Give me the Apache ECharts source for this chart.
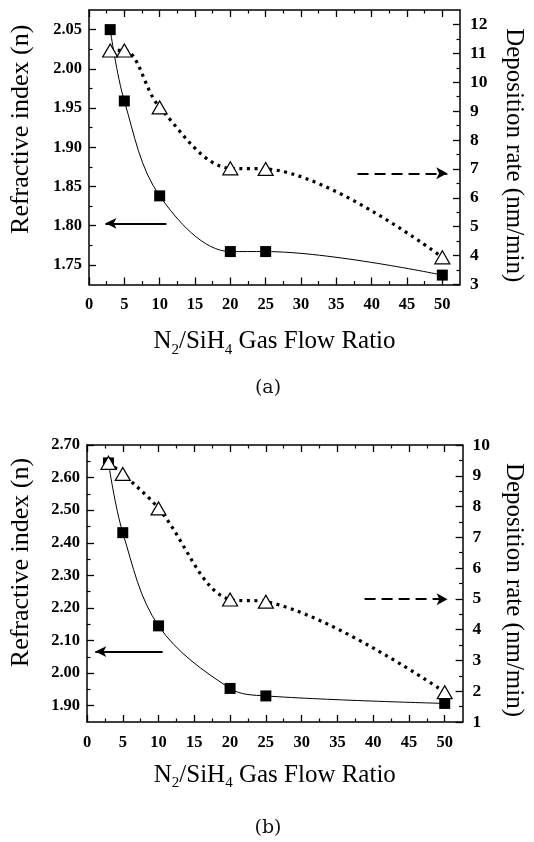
<!DOCTYPE html>
<html>
<head>
<meta charset="utf-8">
<title>N2/SiH4 ratio - refractive index and deposition rate</title>
<script src="https://cdn.jsdelivr.net/npm/echarts@6/dist/echarts.min.js"></script>
<style>
    html, body { margin: 0; padding: 0; background: #fff; }
    #chart { width: 534px; height: 842px; }
</style>
</head>
<body>
<div id="chart"></div>
<script>
// gas flow ratio (x) shared by both panels
var X_RATIO = [3, 5, 10, 20, 25, 50];

// panel (a)
var INDEX_A = [2.05, 1.959, 1.838, 1.767, 1.767, 1.737];
var RATE_A = [11.1, 11.1, 9.13, 7.02, 7.0, 3.94];
// panel (b)
var INDEX_B = [2.645, 2.431, 2.145, 1.953, 1.930, 1.907];
var RATE_B = [9.42, 9.06, 7.94, 4.98, 4.91, 1.97];

// arrows pointing to the axis each curve belongs to: [[fromX, fromY], [toX, toY]]
var ARROW_INDEX_A = [[10.96, 1.803], [2.33, 1.803]];
var ARROW_RATE_A = [[38.0, 6.85], [50.7, 6.85]];
var ARROW_INDEX_B = [[10.57, 2.066], [1.16, 2.066]];
var ARROW_RATE_B = [[38.8, 4.99], [50.4, 4.99]];

// tick values
var X_TICKS = [0, 5, 10, 15, 20, 25, 30, 35, 40, 45, 50];
var X_MINOR = [2.5, 7.5, 12.5, 17.5, 22.5, 27.5, 32.5, 37.5, 42.5, 47.5];
var LEFT_TICKS_A = [1.75, 1.80, 1.85, 1.90, 1.95, 2.00, 2.05];
var LEFT_MINOR_A = [1.775, 1.825, 1.875, 1.925, 1.975, 2.025];
var RIGHT_TICKS_A = [3, 4, 5, 6, 7, 8, 9, 10, 11, 12];
var RIGHT_MINOR_A = [3.5, 4.5, 5.5, 6.5, 7.5, 8.5, 9.5, 10.5, 11.5];
var LEFT_TICKS_B = [1.90, 2.00, 2.10, 2.20, 2.30, 2.40, 2.50, 2.60, 2.70];
var LEFT_MINOR_B = [1.95, 2.05, 2.15, 2.25, 2.35, 2.45, 2.55, 2.65];
var RIGHT_TICKS_B = [1, 2, 3, 4, 5, 6, 7, 8, 9, 10];
var RIGHT_MINOR_B = [1.5, 2.5, 3.5, 4.5, 5.5, 6.5, 7.5, 8.5, 9.5];

var X_MAX = 52.5;
var SERIF = 'Liberation Serif';
var INK = '#000';

var xAxes = [];
var yAxes = [];

function pairs(xs, ys) {
    var out = [];
    for (var i = 0; i < xs.length; i++) {
        out.push([xs[i], ys[i]]);
    }
    return out;
}

function tickAxisBase(gi, min, max, position) {
    return {
        gridIndex: gi,
        type: 'value',
        min: min,
        max: max,
        position: position,
        axisLine: {show: false, onZero: false},
        axisLabel: {show: false},
        splitLine: {show: false}
    };
}

/*
 * four x axes per grid: bottom major (labels + name), bottom minor,
 * top major, top minor. ticks all point inwards.
 */
function addXAxes(gi, nameGap) {
    var major = tickAxisBase(gi, 0, X_MAX, 'bottom');
    major.axisLine = {show: true, onZero: false, lineStyle: {color: INK, width: 1.5}};
    major.axisTick = {inside: true, length: 7, customValues: X_TICKS, lineStyle: {color: INK, width: 1.3}};
    major.axisLabel = {show: true, customValues: X_TICKS, margin: 12, color: INK, fontFamily: SERIF, fontSize: 16.5, fontWeight: 'bold'};
    major.name = '{t|N}{s|2}{t|/SiH}{s|4}{t| Gas Flow Ratio}';
    major.nameLocation = 'middle';
    major.nameGap = nameGap;
    major.nameTextStyle = {
        rich: {
            t: {fontFamily: SERIF, fontSize: 25, color: INK, lineHeight: 32, verticalAlign: 'middle'},
            s: {fontFamily: SERIF, fontSize: 15, color: INK, lineHeight: 15, verticalAlign: 'bottom'}
        }
    };
    xAxes.push(major);

    var minor = tickAxisBase(gi, 0, X_MAX, 'bottom');
    minor.axisTick = {inside: true, length: 3.5, customValues: X_MINOR, lineStyle: {color: INK, width: 1.2}};
    xAxes.push(minor);

    var top = tickAxisBase(gi, 0, X_MAX, 'top');
    top.axisLine = {show: true, onZero: false, lineStyle: {color: INK, width: 1.5}};
    top.axisTick = {inside: true, length: 7, customValues: X_TICKS, lineStyle: {color: INK, width: 1.3}};
    xAxes.push(top);

    var topMinor = tickAxisBase(gi, 0, X_MAX, 'top');
    topMinor.axisTick = {inside: true, length: 3.5, customValues: X_MINOR, lineStyle: {color: INK, width: 1.2}};
    xAxes.push(topMinor);
}

function addYPair(gi, side, min, max, ticks, minorTicks, digits, name, nameSize, nameGap, shift) {
    var major = tickAxisBase(gi, min, max, side);
    major.axisLine = {show: true, onZero: false, lineStyle: {color: INK, width: 1.5}};
    major.axisTick = {inside: true, length: 7, customValues: ticks, lineStyle: {color: INK, width: 1.3}};
    major.axisLabel = {
        show: true,
        customValues: ticks,
        margin: side === 'left' ? 7 : 10,
        color: INK,
        fontFamily: SERIF,
        fontSize: side === 'left' ? 16.5 : 17.5,
        fontWeight: 'bold',
        formatter: function (v) {
            return v.toFixed(digits);
        }
    };
    major.name = name;
    major.nameLocation = 'middle';
    major.nameGap = nameGap;
    major.nameRotate = side === 'left' ? 90 : -90;
    // padding on the leading side nudges the rotated title along the axis
    major.nameTextStyle = {fontFamily: SERIF, fontSize: nameSize, color: INK, padding: [0, 0, 0, shift]};
    yAxes.push(major);

    var minor = tickAxisBase(gi, min, max, side);
    minor.axisTick = {inside: true, length: 3.5, customValues: minorTicks, lineStyle: {color: INK, width: 1.2}};
    yAxes.push(minor);
}

addXAxes(0, 41);
addYPair(0, 'left', 1.725, 2.075, LEFT_TICKS_A, LEFT_MINOR_A, 2, 'Refractive index (n)', 26, 55, 36);
addYPair(0, 'right', 3, 12.5, RIGHT_TICKS_A, RIGHT_MINOR_A, 0, 'Deposition rate (nm/min)', 25, 41, 16);

addXAxes(1, 37);
addYPair(1, 'left', 1.85, 2.70, LEFT_TICKS_B, LEFT_MINOR_B, 2, 'Refractive index (n)', 26, 53, 42);
addYPair(1, 'right', 1, 10, RIGHT_TICKS_B, RIGHT_MINOR_B, 0, 'Deposition rate (nm/min)', 25, 37, 13);

function arrow(points, dashed) {
    return {
        silent: true,
        symbol: ['none', 'arrow'],
        symbolSize: dashed ? [9, 11] : [8, 11],
        label: {show: false},
        lineStyle: {color: INK, width: 2, type: dashed ? [11, 6] : 'solid'},
        data: [[{coord: points[0]}, {coord: points[1]}]]
    };
}

function indexSeries(gi, values, arrowPts) {
    return {
        type: 'line',
        xAxisIndex: gi * 4,
        yAxisIndex: gi * 4,
        data: pairs(X_RATIO, values),
        smooth: 0.35,
        symbol: 'rect',
        symbolSize: 11,
        itemStyle: {color: INK},
        lineStyle: {color: INK, width: 1},
        z: 3,
        markLine: arrow(arrowPts, false)
    };
}

function rateSeries(gi, values, arrowPts) {
    return {
        type: 'line',
        xAxisIndex: gi * 4,
        yAxisIndex: gi * 4 + 2,
        data: pairs(X_RATIO, values),
        smooth: 0.35,
        symbol: 'triangle',
        symbolSize: [15, 13],
        itemStyle: {color: '#fff', borderColor: INK, borderWidth: 1.2},
        lineStyle: {color: INK, width: 3.2, type: [3, 4.5]},
        z: 4,
        markLine: arrow(arrowPts, true)
    };
}

var chart = echarts.init(document.getElementById('chart'));
chart.setOption({
    backgroundColor: '#fff',
    animation: false,
    grid: [
        {left: 86.7, top: 10, width: 383.3, height: 274.5},
        {left: 84, top: 445, width: 385.4, height: 277}
    ],
    xAxis: xAxes,
    yAxis: yAxes,
    graphic: [
        {type: 'text', x: 268, y: 388, style: {text: '(a)', fontFamily: 'DejaVu Serif', fontSize: 19, fill: '#111', textAlign: 'center', textVerticalAlign: 'middle'}},
        {type: 'text', x: 268, y: 828, style: {text: '(b)', fontFamily: 'DejaVu Serif', fontSize: 19, fill: '#111', textAlign: 'center', textVerticalAlign: 'middle'}}
    ],
    series: [
        indexSeries(0, INDEX_A, ARROW_INDEX_A),
        rateSeries(0, RATE_A, ARROW_RATE_A),
        indexSeries(1, INDEX_B, ARROW_INDEX_B),
        rateSeries(1, RATE_B, ARROW_RATE_B)
    ]
});
</script>
</body>
</html>
